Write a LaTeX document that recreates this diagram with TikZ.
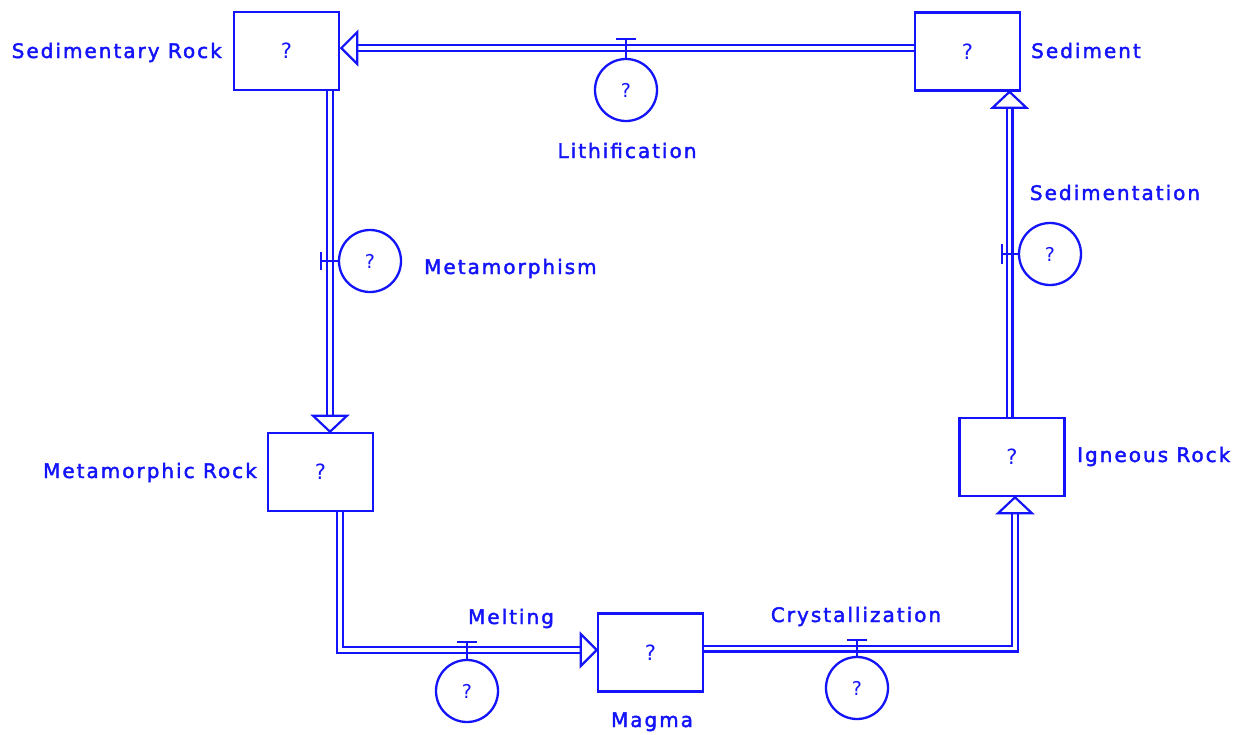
\documentclass[tikz,border=0pt]{standalone}
\usepackage{fontspec}
\usetikzlibrary{calc}
\newfontfamily\labfont[LetterSpace=10,FakeBold=2]{DejaVu Sans}
\newfontfamily\qfont{DejaVu Sans}
\definecolor{blu}{RGB}{20,20,250}
\begin{document}
\begin{tikzpicture}[x=1pt,y=-1pt,
  stock/.style={draw=blu, line width=2.6pt, minimum width=105pt, minimum height=78pt, inner sep=0pt, text=blu, font=\qfont\fontsize{21}{24}\selectfont},
  valvec/.style={draw=blu, circle, line width=2.3pt, minimum size=62pt, inner sep=0pt, text=blu, font=\qfont\fontsize{19}{22}\selectfont},
  pipe/.style={draw=blu, line width=2.3pt, double=white, double distance=3.4pt, line join=miter},
  head/.style={draw=blu, fill=white, line width=2.2pt, line join=miter},
  valveline/.style={draw=blu, line width=2.4pt},
  lbl/.style={text=blu, font=\labfont\fontsize{20}{24}\selectfont, inner sep=0pt}
]
\useasboundingbox (0,0) rectangle (1237,734);
\fill[white] (0,0) rectangle (1237,734);

% stocks
\node[stock] (sr) at (286.5,51) {?};
\node[stock] (sd) at (967.5,51.5) {?};
\node[stock] (mr) at (320.5,472) {?};
\node[stock] (mg) at (650.5,652.5) {?};
\node[stock] (ig) at (1012,457) {?};

% valve circles
\node[valvec] (vl) at (626,90) {?};
\node[valvec] (vm) at (370,261) {?};
\node[valvec] (vme) at (467,691) {?};
\node[valvec] (vc) at (857,688) {?};
\node[valvec] (vs) at (1050,254) {?};

% pipes
\draw[pipe] ($(sd.west)+(0,-3.5)$) -- ($(sr.east)+(17,-3)$);
\draw[pipe] ($(sr.south)+(43.5,0)$) -- ($(mr.north)+(9.5,-16)$);
\draw[pipe] ($(mr.south)+(19.5,0)$) |- ($(mg.west)+(-16,-2.5)$);
\draw[pipe] ($(mg.east)+(0,-4)$) -| ($(ig.south)+(3,16)$);
\draw[pipe] ($(ig.north)+(-2.5,0)$) -- ($(sd.south)+(42,16)$);

% arrow heads
\draw[head] ($(sr.east)+(1,-3)$) -- ++(16,-16) -- ++(0,32) -- cycle;
\draw[head] ($(mr.north)+(9.5,0)$) -- ++(-17,-16) -- ++(34,0) -- cycle;
\draw[head] ($(mg.west)+(0,-2.5)$) -- ++(-16,-16) -- ++(0,32) -- cycle;
\draw[head] ($(ig.south)+(3,0)$) -- ++(-17,16) -- ++(34,0) -- cycle;
\draw[head] ($(sd.south)+(42,0)$) -- ++(-17,16) -- ++(34,0) -- cycle;

% valve stems and bars
\draw[valveline] (vl.north) -- ++(0,-19) ++(-10,0) -- ++(20,0);
\draw[valveline] (vm.west) -- ++(-17,0) ++(0,-9) -- ++(0,18);
\draw[valveline] (vme.north) -- ++(0,-17) ++(-10,0) -- ++(20,0);
\draw[valveline] (vc.north) -- ++(0,-16) ++(-10,0) -- ++(20,0);
\draw[valveline] (vs.west) -- ++(-16,0) ++(0,-10) -- ++(0,20);

% labels
\node[lbl, anchor=base east] (lsr) at (222,58) {Sedimentary Rock};
\node[lbl, anchor=base west] (lsd) at (1031,58) {Sediment};
\node[lbl, anchor=base] (lli) at (627,158) {Lithification};
\node[lbl, anchor=base west] (lme) at (424,274) {Metamorphism};
\node[lbl, anchor=base] (lse) at (1115,200) {Sedimentation};
\node[lbl, anchor=base east] (lmr) at (257,478) {Metamorphic Rock};
\node[lbl, anchor=base west] (lig) at (1077,462) {Igneous Rock};
\node[lbl, anchor=base] (lml) at (511,624) {Melting};
\node[lbl, anchor=base] (lcr) at (856,622) {Crystallization};
\node[lbl, anchor=base] (lmg) at (652,727) {Magma};
\end{tikzpicture}
\end{document}
